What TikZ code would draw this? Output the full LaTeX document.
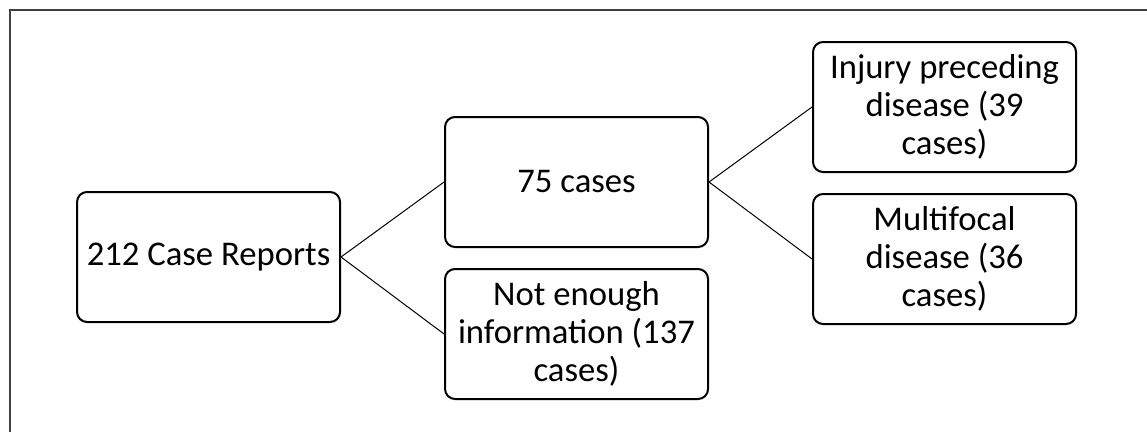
\documentclass[tikz,border=0pt]{standalone}
\usepackage{fontspec}
\setmainfont{Carlito}
\usepackage{tikz}
\usetikzlibrary{positioning}

\begin{document}
\begin{tikzpicture}[
    box/.style={rectangle, draw, line width=1.5pt, rounded corners=7.5pt, minimum width=197.25pt, minimum height=97.5pt, align=center, inner sep=2pt, font=\fontsize{26}{28.5}\selectfont},
    link/.style={line width=0.75pt},
    frame/.style={line width=1.5pt, draw=black!75}
]
    \useasboundingbox (0,0) rectangle (860.25pt,-324pt);
    % Rahmen (rechts und unten abgeschnitten)
    \draw[frame] (860.25pt,-7.5pt) -- (7.5pt,-7.5pt) -- (7.5pt,-324pt);

    % Ausgangsmenge
    \node[box] (reports) at (156.4pt,-192.75pt) {212 Case Reports};

    % erste Aufteilung
    \node[box, right=77.25pt of reports, yshift=56.25pt] (cases) {75 cases};
    \node[box, below=15pt of cases] (noinfo) {Not enough\\information (137\\cases)};

    % zweite Aufteilung
    \node[box, right=77.25pt of cases, yshift=56.25pt] (injury) {Injury preceding\\disease (39\\cases)};
    \node[box, below=15pt of injury] (multi) {Multifocal\\disease (36\\cases)};

    % Linien
    \draw[link] (reports.east) -- (cases.west);
    \draw[link] (reports.east) -- (noinfo.west);
    \draw[link] (cases.east) -- (injury.west);
    \draw[link] (cases.east) -- (multi.west);
\end{tikzpicture}
\end{document}
